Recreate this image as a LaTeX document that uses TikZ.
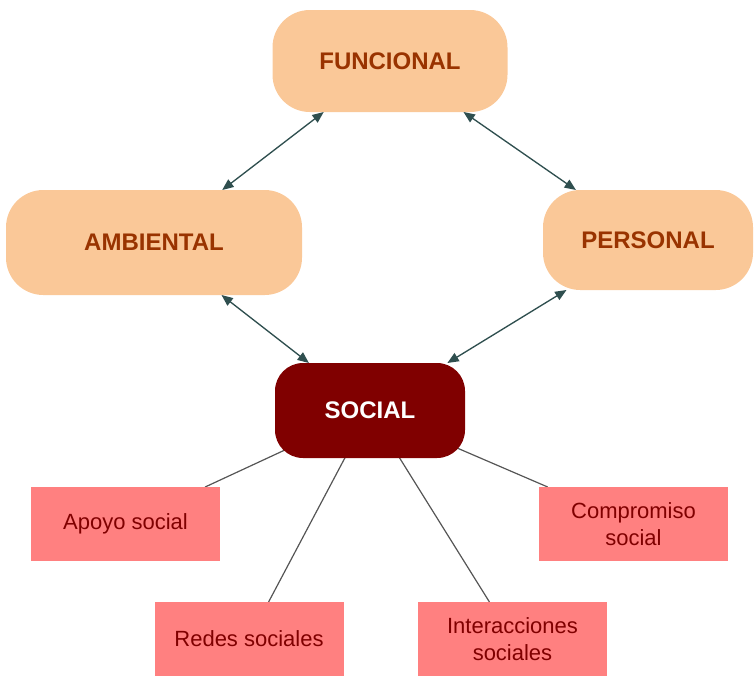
\documentclass[tikz,border=0pt]{standalone}
\usepackage{fontspec}
\setmainfont{Liberation Sans}
\usepackage{tikz}
\usetikzlibrary{arrows.meta,backgrounds}
\definecolor{Peach}{HTML}{FAC898}
\definecolor{Rust}{HTML}{993300}
\definecolor{DarkRed}{HTML}{800000}
\definecolor{Salmon}{HTML}{FF8080}
\definecolor{Slate}{HTML}{2F4F4F}
\definecolor{Wire}{HTML}{555555}

\tikzset{
  area/.style={fill=Peach,text=Rust,font=\bfseries\fontsize{18}{21}\selectfont,
    rounded corners=28pt,inner sep=0pt,outer sep=0pt},
  core/.style={fill=DarkRed,text=white,font=\bfseries\fontsize{18}{21}\selectfont,
    rounded corners=21pt,inner sep=0pt,outer sep=0pt,
    minimum width=142.5pt,minimum height=71.25pt},
  item/.style={fill=Salmon,text=DarkRed,font=\fontsize{16.5}{20}\selectfont,align=center,
    inner sep=0pt,outer sep=0pt,minimum width=141.75pt,minimum height=55.5pt}
}

\begin{document}
\begin{tikzpicture}[line cap=round,line join=round,>={Triangle[length=8.5pt,width=7pt]},x=0.75pt,y=-0.75pt]
    \useasboundingbox (0,0) rectangle (754,676);

    \node[area,minimum width=176.25pt,minimum height=76.5pt] (func) at (390,61) {FUNCIONAL};
    \node[area,minimum width=222pt,minimum height=78.75pt] (amb) at (154,242.5) {AMBIENTAL};
    \node[area,minimum width=157.5pt,minimum height=75pt] (pers) at (648,240) {PERSONAL};
    \node[core] (soc) at (370,410.5) {SOCIAL};

    \node[item] (apoyo) at (125.5,524) {Apoyo social};
    \node[item] (comp) at (633.5,524) {Compromiso\\social};
    \node[item] (redes) at (249,639) {Redes sociales};
    \node[item] (inter) at (512.5,639) {Interacciones\\sociales};

    \draw [<->,line width=1pt,color=Slate] (func) -- (amb);
    \draw [<->,line width=1pt,color=Slate] (func) -- (pers);
    \draw [<->,line width=1pt,color=Slate] (amb) -- (soc);
    \draw [<->,line width=1pt,color=Slate] (pers) -- (soc);

    \begin{scope}[on background layer]
        \draw [line width=0.9pt,color=Wire] (soc.center) -- (apoyo);
        \draw [line width=0.9pt,color=Wire] (soc.center) -- (redes);
        \draw [line width=0.9pt,color=Wire] (soc.center) -- (inter);
        \draw [line width=0.9pt,color=Wire] (soc.center) -- (comp);
    \end{scope}
\end{tikzpicture}
\end{document}
